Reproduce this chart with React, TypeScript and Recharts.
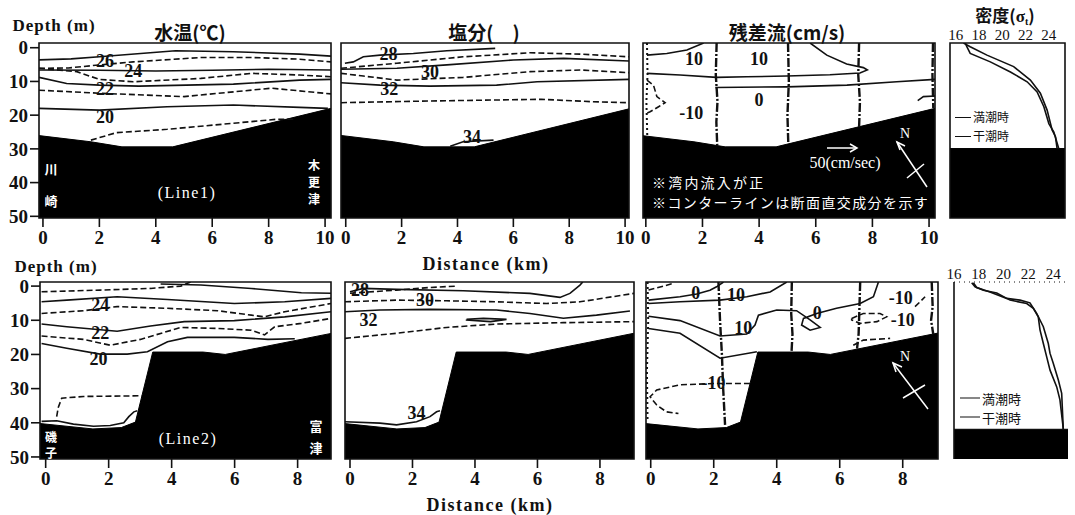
import React from "react";
import { Area, ComposedChart, Line, ReferenceArea, ReferenceDot, ReferenceLine, XAxis, YAxis } from "recharts";

const SERIF = "'Liberation Serif', 'DejaVu Serif', serif";
const GOTHIC = "'Noto Sans CJK JP', 'Noto Sans', sans-serif";
const INK = "#111";

type Pt = [number, number]; // [distance km | sigma-t, depth m]
type Tag = [number, number, string];

const kmTicks1 = [0, 2, 4, 6, 8, 10];
const kmTicks2 = [0, 2, 4, 6, 8];
const depthTicks = [0, 10, 20, 30, 40, 50];
const sigmaTicks = [16, 18, 20, 22, 24];

// sea bottom along each line
const bedLine1: Pt[] = [[-0.2, 26], [1.7, 27.9], [2.8, 29.4], [4.6, 29.4], [10.3, 17.8]];
const bedLine2: Pt[] = [[-0.2, 40.2], [1.5, 41.8], [2.4, 41.4], [2.85, 39.8], [3.4, 19.3], [5.0, 19.3], [5.7, 20.0], [9.2, 13.6]];
const bedSigma1: Pt[] = [[15, 29.9], [26, 29.9]];
const bedSigma2: Pt[] = [[15, 41.9], [26, 41.9]];

// Line1 temperature
const t1_26: Pt[] = [[-0.14, 3.6], [1.0, 3.3], [2.0, 2.7], [3.8, 1.5], [4.7, 0.9], [6.75, 1.2], [9.1, 1.9], [10.21, 2.5]];
const t1_25: Pt[] = [[-0.14, 6.1], [0.9, 6.0], [2.0, 5.1], [3.2, 4.2], [5.6, 2.9], [7.4, 2.9], [9.1, 3.4], [10.21, 4.2]];
const t1_24: Pt[] = [[-0.14, 6.6], [2, 6.7], [4, 6.9], [6, 6.7], [8, 6.4], [10.21, 6.6]];
const t1_23: Pt[] = [[-0.14, 6.1], [1.2, 7.1], [2.0, 9.4], [3.2, 10.1], [5.6, 9.1], [7.4, 7.6], [9.1, 8.1], [10.21, 8.6]];
const t1_22: Pt[] = [[-0.14, 8.8], [0.84, 10.6], [2.0, 11.1], [3.4, 11.4], [6.75, 10.8], [9.1, 9.6], [10.21, 9.4]];
const t1_21: Pt[] = [[-0.14, 12.6], [2, 13.5], [5, 14.5], [8.1, 12.0], [10.21, 13.7]];
const t1_20: Pt[] = [[-0.14, 18], [2, 18.5], [4.4, 17.5], [6.75, 17], [9.1, 17.7], [10.1, 18]];
const t1_19: Pt[] = [[1.7, 27.4], [2.6, 25.2], [4.4, 24.2], [6.75, 22.4], [8.3, 21.2], [8.9, 21.2]];
const t1Tags: Tag[] = [[2.2, 3.9, "26"], [3.2, 6.9, "24"], [2.2, 12.1, "22"], [2.2, 20.4, "20"]];

// Line1 salinity
const s1_28: Pt[] = [[-0.03, 4.6], [0.27, 4.2], [0.63, 2.7], [1.23, 2.2], [2.42, 1.7], [3.62, 0.9], [5.35, 0.2]];
const s1_29: Pt[] = [[-0.17, 6.1], [1.83, 4.6], [4.2, 2.7], [6.6, 1.5], [8.4, 1.9], [10.14, 2.7]];
const s1_30: Pt[] = [[-0.17, 6.4], [1.83, 6.1], [3.62, 5.1], [6.0, 3.65], [7.8, 3.15], [10.14, 3.95]];
const s1_31: Pt[] = [[-0.17, 7.6], [0.63, 8.4], [1.83, 9.6], [4.2, 8.8], [6.6, 7.1], [8.4, 6.6], [10.14, 7.4]];
const s1_32: Pt[] = [[-0.17, 10.4], [1.23, 11.1], [3.02, 11.4], [5.4, 11.1], [6.85, 10.1], [10.14, 9.4]];
const s1_33: Pt[] = [[-0.17, 16.3], [3.02, 15.8], [7.0, 15.3], [8.8, 16], [10.14, 16.3]];
const s1_34: Pt[] = [[3.74, 29.2], [4.2, 27.9], [5.29, 27.4]];
const s1Tags: Tag[] = [[1.53, 1.9, "28"], [3.02, 7.1, "30"], [1.56, 12.1, "32"], [4.52, 26.4, "34"]];

// Line1 residual current
const r1_10a: Pt[] = [[0.04, 2.2], [0.74, 1.7], [1.45, 0.7], [2.04, -1.4]];
const r1_10b: Pt[] = [[5.8, -1.4], [6.39, 2.2], [7.09, 4.8], [7.68, 5.9], [7.82, 6.6], [7.56, 7.5], [6.5, 8.0], [4.98, 8.4], [3.56, 8.6], [2.5, 8.8], [1.21, 8.1], [0.04, 7.6]];
const r1_0: Pt[] = [[2.45, 11.8], [4.98, 11.6], [7.1, 11.1], [8.86, 10.1], [10.21, 9.4]];
const r1_edge: Pt[] = [[9.6, 15.7], [9.8, 14.5], [10.21, 14.3]];
const r1_m10: Pt[] = [[0.04, 9.6], [0.27, 11.1], [0.39, 14.5], [0.68, 16.3], [0.45, 17.5], [0.15, 19.0], [0.01, 19.5]];
const r1Tags: Tag[] = [[1.7, 3.4, "10"], [4.0, 3.2, "10"], [4.0, 15.5, "0"], [1.6, 19.5, "-10"]];
const r1Edge: Pt[] = [[0.04, -1.4], [0.06, 8], [0.02, 16], [0.05, 25.9]];
const r1Stations: Pt[][] = [
  [[2.5, -1.4], [2.47, 8], [2.53, 16], [2.49, 22], [2.52, 28.9]],
  [[5.02, -1.4], [5.05, 10], [5.0, 20], [5.03, 28.5]],
  [[7.53, -1.4], [7.5, 8], [7.56, 16], [7.53, 23.5]],
  [[10.14, -1.4], [10.12, 8], [10.15, 17.9]],
];

// Line1 density (sigma-t)
const d1High: Pt[] = [[16.66, -1.4], [17.24, -0.3], [18.68, 2.2], [20.98, 5.6], [22.42, 9.6], [23.28, 13.5], [23.86, 18.5], [24.29, 24.4], [24.58, 26.4], [24.72, 29.9]];
const d1Low: Pt[] = [[16.81, -1.4], [16.95, -0.3], [17.24, 1.7], [18.97, 4.2], [20.7, 7.2], [22.14, 10.1], [23.0, 13.1], [23.58, 17.5], [24.01, 22.5], [24.44, 25.0], [24.86, 29.9]];

// Line2 temperature
const t2_26: Pt[] = [[3.65, -0.6], [4.93, -0.3], [6.53, 0.7], [8.12, 1.95], [9.06, 2.1]];
const t2_25: Pt[] = [[-0.13, 1.66], [1.73, 1.17], [3.33, 0.68], [4.29, 0], [4.6, -1.2]];
const t2_24: Pt[] = [[-0.13, 4.6], [0.67, 4.1], [2.27, 3.1], [3.87, 3.9], [5.99, 5.1], [7.59, 4.6], [9.06, 3.6]];
const t2_23: Pt[] = [[-0.13, 8.0], [1.2, 7.2], [2.27, 6.0], [3.87, 6.5], [5.46, 7.2], [6.53, 8.5], [6.95, 9.0], [7.59, 7.5], [9.06, 5.1]];
const t2_22: Pt[] = [[-0.13, 11.1], [0.67, 11.9], [2.27, 13.2], [3.33, 11.7], [4.4, 10.4], [5.99, 10.1], [7.59, 9.0], [9.06, 7.5]];
const t2_21: Pt[] = [[-0.13, 14.6], [1.2, 15.6], [2.05, 17.3], [3.01, 15.6], [4.29, 12.1], [5.46, 12.4], [6.53, 12.9], [6.95, 14.3], [7.27, 11.9], [8.12, 10.9], [9.06, 9.45]];
const t2_20: Pt[] = [[-0.13, 16.8], [0.67, 18.2], [1.73, 19.9], [2.59, 19.9], [3.23, 19.2], [3.87, 16.3], [4.5, 15.0], [5.99, 15.0], [7.06, 15.6], [7.91, 15.4]];
const t2_19: Pt[] = [[0.35, 38.2], [0.4, 35.5], [0.51, 32.8], [1.2, 32.3], [3.05, 32.1]];
const t2_18: Pt[] = [[-0.13, 39.6], [0.35, 39.4], [0.88, 40.4], [1.52, 41.0], [2.05, 40.8], [2.48, 40.0], [2.64, 38.2], [2.8, 36.8], [2.91, 36.5]];
const t2Tags: Tag[] = [[1.73, 5.6, "24"], [1.73, 13.6, "22"], [1.68, 21.2, "20"]];

// Line2 salinity
const s2_28: Pt[] = [[0, 1.66], [0.43, 0.68], [1.49, 0.97], [3.63, 1.37], [5.76, 2.13], [6.72, 3.3], [7.04, 2.13], [7.36, -0.3], [7.45, -1.2]];
const s2_29: Pt[] = [[0, 2.1], [1.49, 1.17], [2.56, 0.4], [3.41, 0]];
const s2_30: Pt[] = [[-0.16, 4.6], [1.49, 4.1], [3.09, 4.3], [4.69, 4.6], [6.29, 5.1], [7.36, 4.6], [9.09, 2.13]];
const s2_31: Pt[] = [[-0.16, 7.5], [0.96, 7.0], [2.56, 6.8], [4.69, 7.0], [5.76, 8.0], [6.83, 9.4], [7.89, 8.5], [8.96, 7.3]];
const s2_lens: Pt[] = [[3.73, 9.75], [4.27, 9.45], [5.01, 9.75], [4.5, 10.4], [3.73, 9.9], [3.73, 9.75]];
const s2_33: Pt[] = [[-0.16, 15.3], [1.49, 13.8], [3.09, 12.1], [4.69, 11.1], [6.83, 10.7], [9.09, 10.4]];
const s2_34: Pt[] = [[-0.16, 39.7], [0.96, 40.1], [1.49, 40.6], [2.13, 39.7], [2.56, 38.2], [2.77, 36.8], [2.88, 36.5]];
const s2Tags: Tag[] = [[0.32, 1.2, "28"], [2.4, 4.1, "30"], [0.59, 9.9, "32"], [2.13, 37.2, "34"]];

// Line2 residual current
const r2_0a: Pt[] = [[-0.07, 4.1], [0.93, 3.1], [1.46, 2.3], [1.88, 1.2], [2.09, 0.2], [2.31, -1.2]];
const r2_10a: Pt[] = [[-0.07, 5.1], [0.93, 4.6], [2.2, 4.1], [3.05, 3.1], [3.79, 1.7], [4.32, -1.2]];
const r2_10b: Pt[] = [[-0.07, 8.8], [0.93, 10.1], [2.2, 14.6], [3.05, 14.0], [3.31, 11.4], [3.42, 8.5], [4.0, 7.0], [4.63, 7.2], [5.06, 9.9], [5.38, 12.1], [5.06, 12.9], [4.79, 11.4], [4.85, 9.45], [5.27, 8.0], [5.9, 6.5], [6.65, 5.1], [7.07, 3.1], [7.23, -1.2]];
const r2_0b: Pt[] = [[-0.07, 12.4], [0.93, 13.8], [2.2, 21.1], [3.37, 19.2]];
const r2_m10a: Pt[] = [[-0.07, 1.17], [0.4, 0], [0.72, -0.8]];
const r2_m10b: Pt[] = [[3.15, 28.5], [2.0, 28.5], [0.93, 28.9], [0.19, 30.4], [-0.02, 32.4], [0.19, 34.8], [0.5, 36.8], [0.88, 37.3]];
const r2_m10c: Pt[] = [[6.38, 9.45], [6.75, 8.0], [7.28, 8.0], [7.49, 9.0], [7.18, 10.4], [6.65, 10.9], [6.38, 9.9], [6.38, 9.45]];
const r2_m10d: Pt[] = [[8.39, 6.0], [8.55, 4.6], [8.71, 3.1]];
const r2_m10e: Pt[] = [[6.43, 17.3], [6.75, 15.8], [7.6, 15.3]];
const r2Tags: Tag[] = [[1.43, 1.95, "0"], [2.71, 2.65, "10"], [2.94, 12.4, "10"], [5.29, 8.0, "0"], [1.99, 28.5, "-10"], [7.94, 3.6, "-10"], [8.0, 9.9, "-10"]];
const r2Edge: Pt[] = [[-0.1, -1.2], [-0.08, 10], [-0.12, 25], [-0.1, 39.7]];
const r2Stations: Pt[][] = [
  [[2.15, -1.2], [2.2, 10], [2.26, 20], [2.3, 30], [2.36, 40.6]],
  [[4.48, -1.2], [4.46, 8], [4.5, 14], [4.47, 19.3]],
  [[6.65, -1.2], [6.62, 8], [6.6, 14], [6.55, 18.3]],
  [[8.92, -1.2], [8.95, 6], [8.9, 10], [8.97, 14.1]],
];

// Line2 density (sigma-t)
const d2High: Pt[] = [[17.43, -1.0], [17.7, 0.2], [18.37, 1.2], [19.45, 2.0], [20.52, 4.1], [21.87, 5.1], [22.4, 6.5], [22.8, 9.0], [22.94, 12.8], [23.21, 16.8], [23.48, 20.7], [23.75, 24.6], [24.29, 29.5], [24.55, 33.3], [24.77, 40.2], [24.82, 41.9]];
const d2Low: Pt[] = [[17.56, -1.0], [17.83, 0.4], [18.9, 1.7], [20.25, 3.6], [21.33, 4.1], [22.13, 4.9], [22.67, 8.0], [23.21, 11.9], [23.61, 16.8], [23.75, 19.7], [24.01, 22.6], [24.42, 27.5], [24.69, 31.4], [24.82, 41.9]];

const toRows = (pts: Pt[]) => pts.map(([x, d]) => ({ x, d }));

function iso(key: string, pts: Pt[], dashed = false) {
  return (
    <Line key={key} data={toRows(pts)} dataKey="d" type="linear" stroke={INK} strokeWidth={1.6}
      strokeDasharray={dashed ? "6 3" : undefined} dot={false} activeDot={false} isAnimationActive={false} legendType="none" />
  );
}

function station(key: string, pts: Pt[], edge = false) {
  return (
    <Line key={key} data={toRows(pts)} dataKey="d" type="linear" stroke={INK} strokeWidth={edge ? 2 : 2.4}
      strokeDasharray={edge ? "2 3" : "9 2 2 2"} dot={false} activeDot={false} isAnimationActive={false} legendType="none" />
  );
}

function TagText(props: { viewBox?: { x: number; y: number; width?: number; height?: number }; text: string }) {
  const vb = props.viewBox;
  if (!vb) return null;
  const cx = vb.x + (vb.width ?? 0) / 2;
  const cy = vb.y + (vb.height ?? 0) / 2;
  return (
    <text x={cx} y={cy} textAnchor="middle" dominantBaseline="central" fill={INK}
      style={{ fontFamily: SERIF, fontSize: 18, fontWeight: 700 }}>
      {props.text}
    </text>
  );
}

function tag([x, d, text]: Tag, i: number) {
  return (
    <ReferenceDot key={`tag${i}`} x={x} y={d} r={0} fill="none" stroke="none" ifOverflow="visible"
      label={<TagText text={text} />} />
  );
}

type Frame = { l: number; t: number; w: number; h: number };

function Panel(props: {
  frame: Frame;
  xDomain: [number, number];
  yDomain: [number, number];
  xTicks: number[];
  bed: Pt[];
  topAxis?: boolean;
  showDepth?: boolean;
  openFrame?: boolean;
  children?: React.ReactNode;
}) {
  const { frame, xDomain, yDomain, xTicks, bed, topAxis, showDepth, openFrame, children } = props;
  const L = 40, T = 22, R = 10, B = 34;
  return (
    <div style={{ position: "absolute", left: frame.l - L, top: frame.t - T }}>
      <ComposedChart
        width={frame.w + L + R}
        height={frame.h + T + B}
        data={toRows(bed)}
        margin={{ top: topAxis ? 0 : T, right: R, bottom: topAxis ? B : 0, left: showDepth ? 0 : L }}
      >
        <XAxis type="number" dataKey="x" domain={xDomain} allowDataOverflow ticks={xTicks} interval={0}
          orientation={topAxis ? "top" : "bottom"} height={topAxis ? T : B} axisLine={false}
          tickLine={topAxis ? false : { stroke: INK, strokeWidth: 1.6 }}
          tickSize={topAxis ? 2 : 9} tickMargin={topAxis ? 1 : 4}
          tick={{ fill: INK, fontSize: topAxis ? 15 : 19, fontFamily: SERIF, fontWeight: topAxis ? 400 : 700 }} />
        <YAxis type="number" reversed domain={yDomain} allowDataOverflow ticks={depthTicks} interval={0}
          hide={!showDepth} width={L} axisLine={false}
          tickLine={{ stroke: INK, strokeWidth: 1.6 }} tickSize={9} tickMargin={2}
          tick={{ fill: INK, fontSize: 19, fontFamily: SERIF, fontWeight: 700 }} />
        <Area dataKey={(r: { d: number }) => [r.d, 60]} type="linear" stroke="#000" fill="#000" fillOpacity={1}
          dot={false} activeDot={false} isAnimationActive={false} legendType="none" />
        {children}
        {openFrame ? (
          [
            <ReferenceLine key="fl" x={xDomain[0]} stroke={INK} strokeWidth={1.6} ifOverflow="visible" />,
            <ReferenceLine key="ft" y={yDomain[0]} stroke={INK} strokeWidth={1.2} strokeDasharray="1 4" ifOverflow="visible" />,
          ]
        ) : (
          <ReferenceArea x1={xDomain[0]} x2={xDomain[1]} y1={yDomain[0]} y2={yDomain[1]} fill="none"
            stroke={INK} strokeWidth={1.6} ifOverflow="visible" />
        )}
      </ComposedChart>
    </div>
  );
}

function Note({ x, y, children, style, left }: { x: number; y: number; children: React.ReactNode; style?: React.CSSProperties; left?: boolean }) {
  return (
    <div style={{ position: "absolute", left: x, top: y, transform: `translate(${left ? "0" : "-50%"}, -50%)`, whiteSpace: "nowrap", lineHeight: 1, ...style }}>
      {children}
    </div>
  );
}

// one character per line, white on the black sea bottom
function Vertical({ x, y, text, step, size }: { x: number; y: number; text: string; step: number; size: number }) {
  return (
    <>
      {text.split("").map((c, i) => (
        <Note key={i} x={x} y={y + i * step} style={{ color: "#fff", fontFamily: GOTHIC, fontSize: size, fontWeight: 700, lineHeight: `${size}px` }}>
          {c}
        </Note>
      ))}
    </>
  );
}

function LegendRow({ x, y, w, label, size }: { x: number; y: number; w: number; label: string; size: number }) {
  return (
    <div style={{ position: "absolute", left: x, top: y, transform: "translateY(-50%)", display: "flex", alignItems: "center", whiteSpace: "nowrap" }}>
      <span style={{ display: "inline-block", width: w, borderTop: `1.5px solid ${INK}` }} />
      <span style={{ marginLeft: 2, fontFamily: GOTHIC, fontSize: size, color: INK, lineHeight: 1 }}>{label}</span>
    </div>
  );
}

const top: [number, number] = [-1.4, 50.5];
const bottom: [number, number] = [-1.2, 50.6];
const title: React.CSSProperties = { fontFamily: GOTHIC, fontSize: 19, fontWeight: 700, color: INK };
const serifLabel: React.CSSProperties = { fontFamily: SERIF, fontSize: 17, letterSpacing: 1, color: INK, fontWeight: 700 };
const noteText: React.CSSProperties = { color: "#fff", fontFamily: GOTHIC, fontSize: 14, lineHeight: "14px" };

export default function App() {
  return (
    <div style={{ position: "absolute", left: 0, top: 0, width: 1075, height: 515, background: "#fff", overflow: "hidden" }}>
      <Panel frame={{ l: 39, t: 43, w: 292, h: 175 }} xDomain={[-0.14, 10.21]} yDomain={top} xTicks={kmTicks1} bed={bedLine1} showDepth>
        {[t1_26, t1_24, t1_22, t1_20].map((p, i) => iso(`s${i}`, p))}
        {[t1_25, t1_23, t1_21, t1_19].map((p, i) => iso(`d${i}`, p, true))}
        {t1Tags.map(tag)}
      </Panel>
      <Panel frame={{ l: 341, t: 43, w: 288, h: 175 }} xDomain={[-0.17, 10.14]} yDomain={top} xTicks={kmTicks1} bed={bedLine1}>
        {[s1_28, s1_30, s1_32, s1_34].map((p, i) => iso(`s${i}`, p))}
        {[s1_29, s1_31, s1_33].map((p, i) => iso(`d${i}`, p, true))}
        {s1Tags.map(tag)}
      </Panel>
      <Panel frame={{ l: 643, t: 43, w: 292, h: 175 }} xDomain={[-0.1, 10.21]} yDomain={top} xTicks={kmTicks1} bed={bedLine1}>
        {[r1_10a, r1_10b, r1_0, r1_edge].map((p, i) => iso(`s${i}`, p))}
        {iso("m10", r1_m10, true)}
        {station("e", r1Edge, true)}
        {r1Stations.map((p, i) => station(`st${i}`, p))}
        {r1Tags.map(tag)}
      </Panel>
      <Panel frame={{ l: 950, t: 43, w: 115, h: 175 }} xDomain={[15.5, 25.4]} yDomain={top} xTicks={sigmaTicks} bed={bedSigma1} topAxis>
        {iso("hi", d1High)}
        {iso("lo", d1Low)}
      </Panel>

      <Panel frame={{ l: 40, t: 282, w: 291, h: 177 }} xDomain={[-0.18, 9.06]} yDomain={bottom} xTicks={kmTicks2} bed={bedLine2} showDepth>
        {[t2_26, t2_24, t2_22, t2_20, t2_18].map((p, i) => iso(`s${i}`, p))}
        {[t2_25, t2_23, t2_21, t2_19].map((p, i) => iso(`d${i}`, p, true))}
        {t2Tags.map(tag)}
      </Panel>
      <Panel frame={{ l: 345, t: 282, w: 289, h: 177 }} xDomain={[-0.16, 9.09]} yDomain={bottom} xTicks={kmTicks2} bed={bedLine2}>
        {[s2_28, s2_31, s2_lens, s2_34].map((p, i) => iso(`s${i}`, p))}
        {[s2_29, s2_30, s2_33].map((p, i) => iso(`d${i}`, p, true))}
        {s2Tags.map(tag)}
      </Panel>
      <Panel frame={{ l: 646, t: 282, w: 292, h: 177 }} xDomain={[-0.15, 9.12]} yDomain={bottom} xTicks={kmTicks2} bed={bedLine2}>
        {[r2_0a, r2_10a, r2_10b, r2_0b].map((p, i) => iso(`s${i}`, p))}
        {[r2_m10a, r2_m10b, r2_m10c, r2_m10d, r2_m10e].map((p, i) => iso(`d${i}`, p, true))}
        {station("e", r2Edge, true)}
        {r2Stations.map((p, i) => station(`st${i}`, p))}
        {r2Tags.map(tag)}
      </Panel>
      <Panel frame={{ l: 954, t: 282, w: 114, h: 177 }} xDomain={[16, 25.2]} yDomain={bottom} xTicks={sigmaTicks} bed={bedSigma2} topAxis openFrame>
        {iso("hi", d2High)}
        {iso("lo", d2Low)}
      </Panel>

      {/* headings */}
      <Note x={54} y={25} style={serifLabel}>Depth (m)</Note>
      <Note x={56} y={266} style={serifLabel}>Depth (m)</Note>
      <Note x={190} y={31} style={title}>水温(℃)</Note>
      <Note x={484} y={31} style={title}>塩分(　)</Note>
      <Note x={787} y={31} style={title}>残差流(cm/s)</Note>
      <Note x={1005} y={15} style={{ ...title, fontSize: 17 }}>
        密度(<span style={{ fontFamily: SERIF }}>σ</span><span style={{ fontSize: 10, fontFamily: SERIF, position: "relative", top: 3 }}>t</span>)
      </Note>
      <Note x={486} y={264} style={{ ...serifLabel, fontSize: 18, letterSpacing: 1.5 }}>Distance (km)</Note>
      <Note x={490} y={505} style={{ ...serifLabel, fontSize: 18, letterSpacing: 1.5 }}>Distance (km)</Note>

      {/* place names on the sea bottom */}
      <Vertical x={51} y={168} text="川崎" step={32} size={13} />
      <Vertical x={314} y={165} text="木更津" step={17} size={12} />
      <Note x={187} y={193} style={{ color: "#fff", fontFamily: SERIF, fontSize: 16, letterSpacing: 1.5 }}>(Line1)</Note>
      <Vertical x={51} y={437} text="磯子" step={16} size={12} />
      <Vertical x={316} y={425} text="富津" step={22} size={13} />
      <Note x={188} y={439} style={{ color: "#fff", fontFamily: SERIF, fontSize: 16, letterSpacing: 1.5 }}>(Line2)</Note>

      {/* current notes */}
      <Note x={845} y={163} style={{ color: "#fff", fontFamily: SERIF, fontSize: 16 }}>50(cm/sec)</Note>
      <Note x={652} y={182} left style={{ ...noteText, letterSpacing: 2.2 }}>※湾内流入が正</Note>
      <Note x={652} y={202} left style={{ ...noteText, letterSpacing: 1.4 }}>※コンターラインは断面直交成分を示す</Note>
      <Note x={905} y={134} style={{ color: "#fff", fontFamily: SERIF, fontSize: 14 }}>N</Note>
      <Note x={905} y={357} style={{ color: "#fff", fontFamily: SERIF, fontSize: 14 }}>N</Note>
      <svg width={1075} height={515} style={{ position: "absolute", left: 0, top: 0, pointerEvents: "none" }}>
        <g stroke="#fff" strokeWidth={1.5} fill="none">
          <line x1={827} y1={148} x2={857} y2={148} />
          <polyline points="850,144 857,148 850,152" />
          <line x1={897} y1={142} x2={927} y2={187} />
          <line x1={907} y1={178} x2={924} y2={164} />
          <polyline points="905,146 897,142 900,150" />
          <line x1={893} y1={363} x2={928} y2={409} />
          <line x1={903} y1={398} x2={925} y2={385} />
          <polyline points="902,367 893,363 896,372" />
        </g>
      </svg>

      {/* density legends */}
      <LegendRow x={955} y={117} w={16} label="満潮時" size={12} />
      <LegendRow x={955} y={136} w={16} label="干潮時" size={12} />
      <LegendRow x={960} y={398} w={20} label="満潮時" size={13} />
      <LegendRow x={960} y={417} w={20} label="干潮時" size={13} />
    </div>
  );
}
